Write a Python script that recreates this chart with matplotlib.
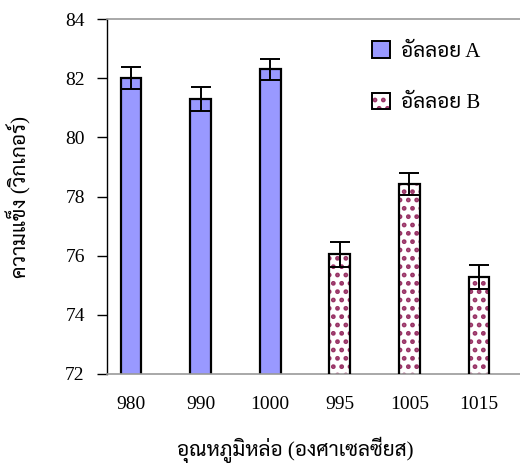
import matplotlib
matplotlib.use("Agg")
import matplotlib.pyplot as plt
from matplotlib.patches import Patch
from matplotlib.legend_handler import HandlerTuple

# Data
categories = ["980", "990", "1000", "995", "1005", "1015"]
alloy_a_vals = [82.0, 81.3, 82.3]
alloy_a_err = [0.38, 0.4, 0.35]
alloy_b_vals = [76.05, 78.42, 75.28]
alloy_b_err = [0.42, 0.37, 0.4]
series_labels = ["อัลลอย A", "อัลลอย B"]
y_ticks = [72, 74, 76, 78, 80, 82, 84]
x_label = "อุณหภูมิหล่อ (องศาเซลซียส)"
y_label = "ความแข็ง (วิกเกอร์)"

# Times-like Latin glyphs, Thai glyphs fall through to Sarabun
plt.rcParams["font.family"] = ["Liberation Serif", "Sarabun", "DejaVu Sans"]
plt.rcParams["hatch.linewidth"] = 2.2

COLOR_A = "#9999FF"
COLOR_B = "#993366"
FS = 14
FS_LABEL = 15

fig = plt.figure(figsize=(5.2, 4.63), dpi=100)
ax = fig.add_axes([107 / 520, 89 / 463, 413 / 520, 355 / 463])

xa = list(range(len(alloy_a_vals)))
xb = [len(alloy_a_vals) + i for i in range(len(alloy_b_vals))]
width = 0.3

ax.bar(xa, alloy_a_vals, width=width, color=COLOR_A,
       edgecolor="black", linewidth=1.6, zorder=2)
ax.bar(xb, alloy_b_vals, width=width, color="white", edgecolor=COLOR_B,
       linewidth=0, hatch="..", zorder=2)
ax.bar(xb, alloy_b_vals, width=width, fill=False, edgecolor="black",
       linewidth=1.6, zorder=3)

ax.errorbar(xa, alloy_a_vals, yerr=alloy_a_err, fmt="none", ecolor="black",
            elinewidth=1.4, capsize=7, capthick=1.4, zorder=4)
ax.errorbar(xb, alloy_b_vals, yerr=alloy_b_err, fmt="none", ecolor="black",
            elinewidth=1.4, capsize=7, capthick=1.4, zorder=4)

ax.set_ylim(72, 84)
ax.set_xlim(-0.345, 5.59)
ax.set_yticks(y_ticks)
ax.set_xticks(xa + xb)
ax.set_xticklabels(categories)
ax.tick_params(axis="y", direction="out", length=7, width=1, labelsize=FS, pad=9)
ax.tick_params(axis="x", length=0, labelsize=FS, pad=16)

ax.spines["left"].set_color("black")
ax.spines["left"].set_linewidth(1.0)
for s in ("top", "bottom"):
    ax.spines[s].set_color("#999999")
    ax.spines[s].set_linewidth(1.2)
ax.spines["right"].set_visible(False)

ax.set_xlabel(x_label, fontsize=FS_LABEL)
ax.xaxis.set_label_coords((295 - 107) / 413, -0.175)
ax.set_ylabel(y_label, fontsize=FS_LABEL, labelpad=24)

h_a = Patch(facecolor=COLOR_A, edgecolor="black", linewidth=1.4)
h_b_fill = Patch(facecolor="white", edgecolor=COLOR_B, linewidth=0, hatch="..")
h_b_edge = Patch(fill=False, edgecolor="black", linewidth=1.4)
ax.legend([h_a, (h_b_fill, h_b_edge)], series_labels,
          handler_map={tuple: HandlerTuple(ndivide=1, pad=0)},
          loc="upper left", bbox_to_anchor=(372 / 520, 1 - 41 / 463),
          bbox_transform=fig.transFigure, frameon=False, fontsize=FS_LABEL,
          handlelength=0.85, handleheight=0.85, handletextpad=0.55,
          labelspacing=1.5, borderpad=0, borderaxespad=0)

fig.savefig("out.png", dpi=100)
